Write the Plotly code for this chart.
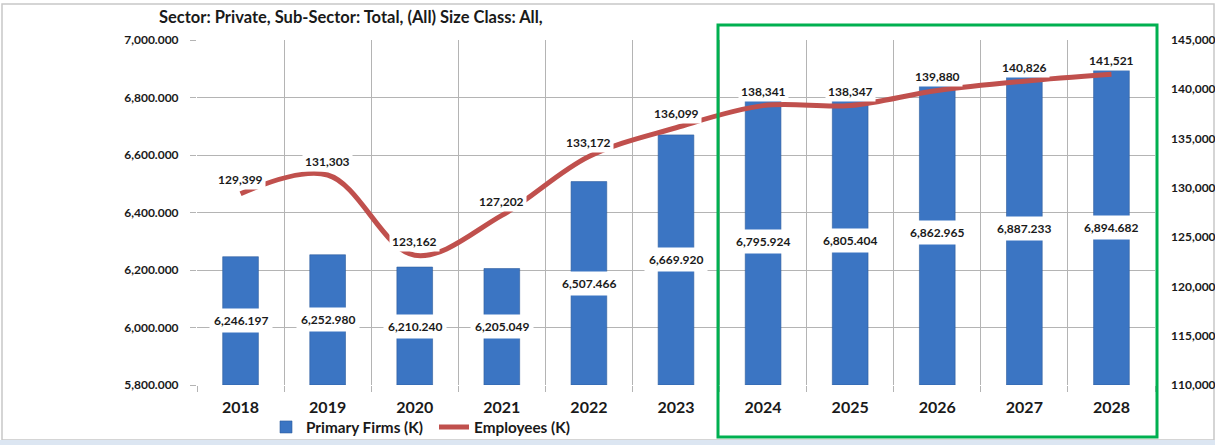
import plotly.graph_objects as go

years = ["2018", "2019", "2020", "2021", "2022", "2023", "2024", "2025", "2026", "2027", "2028"]
firms = [6246.197, 6252.980, 6210.240, 6205.049, 6507.466, 6669.920, 6795.924, 6805.404, 6862.965, 6887.233, 6894.682]
employees = [129399, 131303, 123162, 127202, 133172, 136099, 138341, 138347, 139880, 140826, 141521]
left_ticks = [5800, 6000, 6200, 6400, 6600, 6800, 7000]
right_ticks = [110000, 115000, 120000, 125000, 130000, 135000, 140000, 145000]

W, H = 1215, 445
L, R, T, B = 197, 60, 40, 60
pw, ph = W - L - R, H - T - B

def px(x):
    return (x - L) / pw

def py(y):
    return (H - B - y) / ph

FONT = "Lato"
TXT = "#1a1a1a"
xs = list(range(len(years)))
ymin = left_ticks[0]

fig = go.Figure()
fig.add_trace(go.Bar(
    x=xs, y=[v - ymin for v in firms], base=ymin, width=0.41,
    name="Primary Firms (K)", legend="legend",
    marker=dict(color="#3B75C3", line=dict(color="#2E5D9C", width=0.6)),
    hoverinfo="skip",
))
fig.add_trace(go.Scatter(
    x=xs, y=employees, yaxis="y2", mode="lines", name="Employees (K)", legend="legend2",
    line=dict(color="#C0504D", width=5, shape="spline", smoothing=1.0),
    hoverinfo="skip",
))

annotations = []
for i, v in enumerate(firms):
    annotations.append(dict(
        x=i, y=(ymin + v) / 2, xref="x", yref="y", text=f"{v:,.3f}",
        showarrow=False, bgcolor="white", borderpad=4,
        font=dict(family=FONT, size=12, color=TXT, weight="bold"),
    ))
for i, v in enumerate(employees):
    annotations.append(dict(
        x=i, y=v, xref="x", yref="y2", text=f"{v:,}", yshift=14,
        showarrow=False, bgcolor="white", borderpad=2,
        font=dict(family=FONT, size=12, color=TXT, weight="bold"),
    ))
annotations.append(dict(
    x=px(351), y=py(17), xref="paper", yref="paper",
    text="Sector: Private, Sub-Sector: Total, (All) Size Class: All,",
    showarrow=False, xanchor="center", yanchor="middle",
    font=dict(family=FONT, size=16.5, color=TXT, weight="bold"),
))

shapes = [
    dict(type="rect", xref="paper", yref="paper", x0=px(2), x1=px(1214), y0=py(440), y1=py(4),
         line=dict(color="#C8C8C8", width=1.5), layer="below"),
    dict(type="rect", xref="paper", yref="paper", x0=px(0), x1=px(1215), y0=py(445), y1=py(440),
         line=dict(width=0), fillcolor="#DCE6F2", layer="below"),
    dict(type="rect", xref="paper", yref="paper", x0=px(718), x1=px(1157), y0=py(437), y1=py(25),
         line=dict(color="#00B050", width=3)),
]

legend_font = dict(family=FONT, size=15.3, color=TXT, weight="bold")

fig.update_layout(
    width=W, height=H,
    margin=dict(l=L, r=R, t=T, b=B, autoexpand=False),
    paper_bgcolor="white", plot_bgcolor="white",
    showlegend=True,
    legend=dict(orientation="h", x=px(266), y=py(427), xanchor="left", yanchor="middle",
                font=legend_font, bgcolor="rgba(0,0,0,0)", itemwidth=30),
    legend2=dict(orientation="h", x=px(434), y=py(427), xanchor="left", yanchor="middle",
                 font=legend_font, bgcolor="rgba(0,0,0,0)", itemwidth=30),
    xaxis=dict(
        range=[-0.5, len(years) - 0.5], tickmode="array", tickvals=xs, ticktext=years,
        showgrid=False, zeroline=False, showline=False, ticks="",
        ticklabelstandoff=11,
        tickfont=dict(family=FONT, size=16, color=TXT, weight="bold"),
        minor=dict(tickmode="array", tickvals=[i - 0.5 for i in range(len(years) + 1)],
                   showgrid=True, gridcolor="#B4B4B4", gridwidth=1,
                   ticks="outside", ticklen=6, tickcolor="#B4B4B4"),
    ),
    yaxis=dict(
        range=[left_ticks[0], left_ticks[-1]], tickmode="array", tickvals=left_ticks,
        ticktext=[f"{v:,.3f}" for v in left_ticks],
        showgrid=True, gridcolor="#B4B4B4", gridwidth=1, zeroline=False,
        ticks="outside", ticklen=6, tickcolor="#B4B4B4", ticklabelstandoff=9,
        tickfont=dict(family=FONT, size=12, color=TXT, weight="bold"),
    ),
    yaxis2=dict(
        overlaying="y", side="right",
        range=[right_ticks[0], right_ticks[-1]], tickmode="array", tickvals=right_ticks,
        ticktext=[f"{v:,}" for v in right_ticks],
        showgrid=False, zeroline=False, ticks="", ticklabelstandoff=15,
        tickfont=dict(family=FONT, size=12, color=TXT, weight="bold"),
    ),
    annotations=annotations,
    shapes=shapes,
)

fig.write_html(
    "out.html",
    config={"displayModeBar": False},
    post_script="document.body.style.margin='0';document.body.style.overflow='hidden';",
)
